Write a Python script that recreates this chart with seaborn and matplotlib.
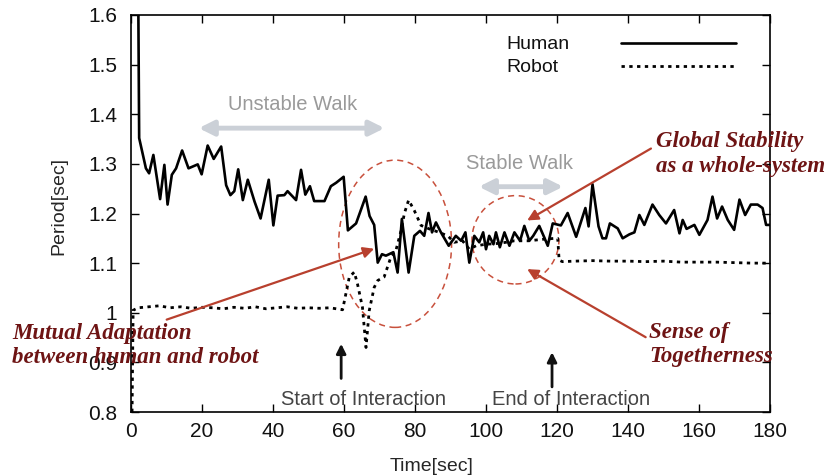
import numpy as np
import pandas as pd
import matplotlib
matplotlib.use("Agg")
import matplotlib.pyplot as plt
from matplotlib.patches import Ellipse
from matplotlib.lines import Line2D
import seaborn as sns

# Human step period
human_t = [1.9, 2.3, 4.2, 5.1, 6.3, 8.2, 9.4, 10.3, 11.5, 12.7, 14.4, 16.2, 18.8, 19.9,
           21.6, 23.3, 25.4, 26.8, 28.0, 29.1, 30.2, 31.5, 32.9, 34.8, 36.5, 38.8, 40.1,
           41.3, 43.2, 44.1, 46.5, 47.9, 49.1, 50.4, 51.6, 54.5, 56.3, 57.8, 59.9, 61.1,
           63.4, 66.1, 67.2, 68.5, 69.5, 70.7, 71.8, 73.9, 75.1, 76.3, 78.2, 79.8, 81.4,
           82.6, 83.8, 84.8, 85.9, 87.3, 89.5, 91.5, 93.0, 94.2, 95.3, 96.7, 98.1, 99.2,
           100.0, 100.9, 102.1, 102.8, 103.9, 105.2, 106.6, 108.0, 109.6, 110.8, 112.2,
           113.3, 115.0, 116.4, 117.4, 118.8, 121.1, 123.0, 125.4, 128.0, 128.9, 130.0,
           131.7, 132.8, 133.8, 134.9, 137.1, 138.5, 140.4, 141.8, 143.2, 144.6, 146.9,
           148.8, 150.7, 153.0, 154.5, 155.4, 156.5, 158.7, 160.1, 162.4, 163.8, 165.1,
           166.5, 168.1, 169.9, 171.4, 173.0, 174.6, 176.5, 177.9, 178.9, 180.0]
human_v = [1.80, 1.352, 1.291, 1.281, 1.318, 1.229, 1.298, 1.218, 1.278, 1.291, 1.327,
           1.291, 1.299, 1.279, 1.337, 1.310, 1.335, 1.257, 1.237, 1.245, 1.289, 1.227,
           1.268, 1.224, 1.190, 1.268, 1.176, 1.236, 1.237, 1.245, 1.227, 1.288, 1.238,
           1.255, 1.225, 1.225, 1.255, 1.262, 1.274, 1.166, 1.180, 1.234, 1.195, 1.177,
           1.101, 1.118, 1.115, 1.122, 1.081, 1.189, 1.081, 1.155, 1.165, 1.155, 1.201,
           1.162, 1.182, 1.162, 1.135, 1.155, 1.145, 1.162, 1.101, 1.155, 1.142, 1.162,
           1.128, 1.155, 1.138, 1.162, 1.132, 1.162, 1.135, 1.162, 1.145, 1.175, 1.145,
           1.155, 1.175, 1.152, 1.135, 1.180, 1.176, 1.201, 1.153, 1.211, 1.174, 1.259,
           1.174, 1.150, 1.150, 1.180, 1.170, 1.150, 1.158, 1.162, 1.197, 1.177, 1.218,
           1.197, 1.180, 1.207, 1.160, 1.187, 1.169, 1.177, 1.157, 1.187, 1.234, 1.190,
           1.214, 1.187, 1.167, 1.228, 1.197, 1.218, 1.218, 1.211, 1.177, 1.177]

# Robot step period
robot_t = [0.3, 0.6, 2.0, 5.0, 8.0, 11.0, 14.0, 17.0, 20.0, 23.0, 26.0, 29.0, 32.0,
           35.0, 38.0, 41.0, 44.0, 47.0, 50.0, 53.0, 56.0, 59.6, 61.5, 62.9, 63.8, 65.2,
           66.2, 67.1, 68.5, 69.5, 71.3, 73.2, 74.6, 76.1, 77.0, 78.2, 79.8, 81.7, 84.0,
           86.8, 89.2, 91.1, 93.4, 95.3, 97.2, 100.0, 104.0, 108.0, 112.0, 116.0, 119.5,
           120.2, 120.6, 121.5, 125.0, 130.0, 135.0, 140.0, 145.0, 150.0, 155.0, 160.0,
           165.0, 170.0, 175.0, 180.0]
robot_v = [0.80, 1.005, 1.010, 1.012, 1.014, 1.010, 1.012, 1.009, 1.011, 1.010, 1.008,
           1.011, 1.009, 1.012, 1.008, 1.010, 1.012, 1.009, 1.010, 1.009, 1.010, 1.006,
           1.072, 1.082, 1.058, 1.011, 0.930, 1.004, 1.051, 1.065, 1.072, 1.112, 1.125,
           1.166, 1.200, 1.227, 1.206, 1.176, 1.169, 1.162, 1.155, 1.142, 1.145, 1.128,
           1.135, 1.138, 1.140, 1.145, 1.145, 1.148, 1.150, 1.150, 1.106, 1.103, 1.104,
           1.105, 1.104, 1.104, 1.103, 1.104, 1.102, 1.102, 1.102, 1.101, 1.100, 1.100]

x_ticks = [0, 20, 40, 60, 80, 100, 120, 140, 160, 180]
y_ticks = [0.8, 0.9, 1.0, 1.1, 1.2, 1.3, 1.4, 1.5, 1.6]
series_names = ["Human", "Robot"]

human = pd.DataFrame({"t": human_t, "v": human_v})
robot = pd.DataFrame({"t": robot_t, "v": robot_v})

sns.set_theme(style="ticks")
plt.rcParams["font.family"] = ["Liberation Sans", "DejaVu Sans"]
plt.rcParams["xtick.direction"] = "in"
plt.rcParams["ytick.direction"] = "in"

DOTS = (0, (1.2, 1.6))

fig = plt.figure(figsize=(8.33, 4.76), dpi=100)
ax = fig.add_axes([131 / 833, 1 - 412 / 476, 639 / 833, 397 / 476])

sns.lineplot(data=human, x="t", y="v", ax=ax, color="black", lw=1.9)
sns.lineplot(data=robot, x="t", y="v", ax=ax, color="black", lw=2.0, linestyle=DOTS)

ax.set_xlim(0, 180)
ax.set_ylim(0.8, 1.6)
ax.set_xticks(x_ticks)
ax.set_yticks(y_ticks)
ax.set_yticklabels([f"{v:g}" for v in y_ticks])
ax.tick_params(axis="both", labelsize=15, length=6, width=1.0, color="black",
               top=True, right=True, labelcolor="#111111")
ax.tick_params(axis="x", pad=7)
ax.tick_params(axis="y", pad=10)
for s in ax.spines.values():
    s.set_linewidth(1.2)
    s.set_color("black")

ax.set_xlabel("Time[sec]", fontsize=14)
ax.set_ylabel("Period[sec]", fontsize=14)
ax.xaxis.set_label_coords(0.471, -0.115)
ax.yaxis.set_label_coords(-0.099, 0.52)

# gnuplot-style key: labels on the left, samples on the right
for i, (name, ls) in enumerate(zip(series_names, ["-", DOTS])):
    yk = 0.926 - 0.058 * i
    ax.text(0.588, yk, name, transform=ax.transAxes, ha="left", va="center",
            fontsize=14, color="#111111")
    ax.add_line(Line2D([0.767, 0.947], [yk + 0.003, yk + 0.003], transform=ax.transAxes,
                       color="black", lw=1.9 if i == 0 else 2.0, linestyle=ls))

# walking regions
gray = "#cbd0d7"
ax.annotate("", xy=(18.3, 1.372), xytext=(72.2, 1.372),
            arrowprops=dict(arrowstyle="<|-|>", color=gray, lw=3.5, mutation_scale=22))
ax.text(45.5, 1.42, "Unstable Walk", ha="center", va="center", fontsize=14.5, color="#9a9a9a")
ax.annotate("", xy=(97.2, 1.254), xytext=(122.5, 1.254),
            arrowprops=dict(arrowstyle="<|-|>", color=gray, lw=3.5, mutation_scale=22))
ax.text(109.4, 1.30, "Stable Walk", ha="center", va="center", fontsize=14.5, color="#9a9a9a")

# dashed ellipses
red_line = "#c8503c"
ax.add_patch(Ellipse((74.4, 1.139), 31.8, 0.337, fill=False, ec=red_line,
                     ls=(0, (4, 3)), lw=1.1))
ax.add_patch(Ellipse((108.3, 1.147), 24.5, 0.178, fill=False, ec=red_line,
                     ls=(0, (4, 3)), lw=1.1))

# interaction markers
for tx, y0, y1 in [(59.2, 0.862, 0.943), (118.6, 0.845, 0.926)]:
    ax.annotate("", xy=(tx, y1), xytext=(tx, y0),
                arrowprops=dict(arrowstyle="-|>", color="#111111", lw=2, mutation_scale=14))
ax.text(65.5, 0.826, "Start of Interaction", ha="center", va="center",
        fontsize=14.5, color="#444444")
ax.text(124.0, 0.825, "End of Interaction", ha="center", va="center",
        fontsize=14.5, color="#444444")

# red annotations
txt_red = "#6e1414"
arr_red = "#b8402e"
ann = dict(fontsize=16.5, color=txt_red, family=["Liberation Serif", "DejaVu Serif"],
           fontweight="bold", fontstyle="italic", ha="left", va="center",
           linespacing=1.2, annotation_clip=False)
ax.annotate("Mutual Adaptation\nbetween human and robot", xy=(68.5, 1.129),
            xytext=(-33.4, 0.934), textcoords="data",
            arrowprops=dict(arrowstyle="-|>", color=arr_red, lw=1.6, mutation_scale=16,
                            shrinkA=0, shrinkB=0, relpos=(0.56, 0.95)), **ann)
ax.annotate("Global Stability\nas a whole-system", xy=(111.6, 1.186),
            xytext=(147.9, 1.32), textcoords="data",
            arrowprops=dict(arrowstyle="-|>", color=arr_red, lw=1.6, mutation_scale=16,
                            shrinkA=0, shrinkB=0, relpos=(-0.03, 0.62)), **ann)
ax.annotate("Sense of\nTogetherness", xy=(111.6, 1.088),
            xytext=(145.9, 0.936), textcoords="data",
            arrowprops=dict(arrowstyle="-|>", color=arr_red, lw=1.6, mutation_scale=16,
                            shrinkA=0, shrinkB=0, relpos=(0.0, 0.62)), **ann)

fig.savefig("out.png", dpi=100)
